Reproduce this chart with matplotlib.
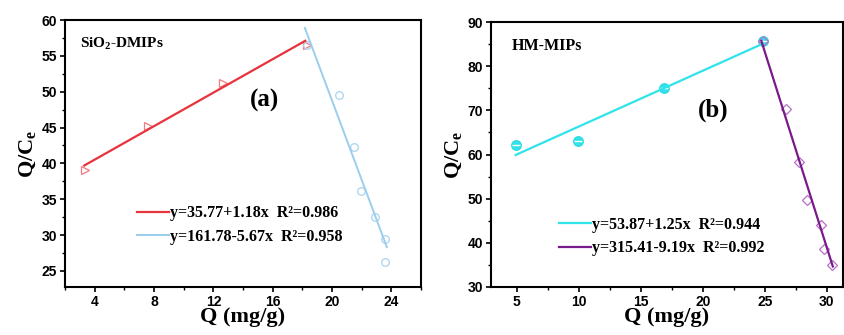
import numpy as np
import matplotlib
matplotlib.use("Agg")
import matplotlib.pyplot as plt
from matplotlib.ticker import MultipleLocator

plt.rcParams['mathtext.fontset'] = 'custom'
plt.rcParams['mathtext.rm'] = 'Liberation Serif:bold'
plt.rcParams['mathtext.it'] = 'Liberation Serif:bold'
plt.rcParams['mathtext.bf'] = 'Liberation Serif:bold'

# panel (a) SiO2-DMIPs
a_tri_x = [3.32, 7.62, 12.66, 18.3]
a_tri_y = [39.1, 45.2, 51.2, 56.5]
a_circ_x = [18.3, 20.45, 21.47, 21.97, 22.87, 23.55, 23.6]
a_circ_y = [56.5, 49.6, 42.3, 36.2, 32.5, 29.4, 26.3]
a_fit1_x = [3.3, 18.2]
a_fit1_y = [39.7, 57.1]
a_fit2_x = [18.17, 23.7]
a_fit2_y = [58.9, 28.3]
a_labels = ["y=35.77+1.18x  R²=0.986", "y=161.78-5.67x  R²=0.958"]

# panel (b) HM-MIPs
b_circ_x = [4.92, 9.94, 16.88, 24.85]
b_circ_y = [62.1, 63.1, 75.1, 85.7]
b_dia_x = [24.85, 26.73, 27.72, 28.39, 29.49, 29.76, 30.4]
b_dia_y = [85.7, 70.2, 58.2, 49.6, 44.1, 38.6, 35.0]
b_fit1_x = [4.92, 24.85]
b_fit1_y = [59.9, 85.1]
b_fit2_x = [24.72, 30.48]
b_fit2_y = [85.7, 34.65]
b_labels = ["y=53.87+1.25x  R²=0.944", "y=315.41-9.19x  R²=0.992"]

serif = "Liberation Serif"
sans = "Liberation Sans"

fig = plt.figure(figsize=(8.44, 3.35), dpi=100)
W, H = 844., 335.
axa = fig.add_axes([65 / W, 1 - 287 / H, (421 - 65) / W, (287 - 20) / H])
axb = fig.add_axes([491 / W, 1 - 287 / H, (843 - 491) / W, (287 - 22) / H])


def style(ax):
    for s in ax.spines.values():
        s.set_linewidth(1.5)
    ax.tick_params(which='major', direction='out', length=3.5, width=1.2,
                   top=False, right=False, pad=2)
    ax.tick_params(which='minor', direction='out', length=2, width=1.0,
                   top=False, right=False)
    for lab in ax.get_xticklabels() + ax.get_yticklabels():
        lab.set_fontfamily(sans)
        lab.set_fontweight('bold')
        lab.set_fontsize(10)
    ax.set_xlabel("Q (mg/g)", fontfamily=serif, fontweight='bold', fontsize=16, labelpad=-1)
    ax.set_ylabel("Q/C$_\\mathregular{e}$", fontfamily=serif, fontweight='bold', fontsize=16, labelpad=3)


# (a)
axa.plot(a_tri_x, a_tri_y, ls='none', marker='>', ms=6, mfc='none', mec='#f07a80', mew=0.9)
axa.plot(a_circ_x, a_circ_y, ls='none', marker='o', ms=5.5, mfc='none', mec='#a9d4ee', mew=0.9)
la1, = axa.plot(a_fit1_x, a_fit1_y, color='#e8323c', lw=1.6)
la2, = axa.plot(a_fit2_x, a_fit2_y, color='#9ccdee', lw=1.4)
axa.set_xlim(2, 26)
axa.set_ylim(22.75, 60)
axa.xaxis.set_major_locator(MultipleLocator(4))
axa.xaxis.set_minor_locator(MultipleLocator(2))
axa.yaxis.set_major_locator(MultipleLocator(5))
axa.yaxis.set_minor_locator(MultipleLocator(2.5))
style(axa)
axa.text(0.043, 0.912, "SiO$_\\mathregular{2}$-DMIPs", transform=axa.transAxes,
         fontfamily=serif, fontweight='bold', fontsize=11, va='center')
axa.text(0.52, 0.70, "(a)", transform=axa.transAxes, fontfamily=serif,
         fontweight='bold', fontsize=18, va='center')
axa.legend([la1, la2], a_labels, loc='center left', bbox_to_anchor=(0.18, 0.232),
           frameon=False, prop={'family': serif, 'weight': 'bold', 'size': 11.5},
           handlelength=2.0, handletextpad=0.05, labelspacing=0.45, borderpad=0)

# (b)
axb.plot(b_circ_x, b_circ_y, ls='none', marker='o', ms=7, mfc='#2fe3ea', mec='#2fd8e0', mew=0.8)
axb.plot(b_circ_x, b_circ_y, ls='none', marker='_', ms=6, mec='white', mew=1.0)
axb.plot(b_dia_x, b_dia_y, ls='none', marker='D', ms=5.5, mfc='none', mec='#b870c8', mew=0.9)
lb1, = axb.plot(b_fit1_x, b_fit1_y, color='#30e3ea', lw=1.6)
lb2, = axb.plot(b_fit2_x, b_fit2_y, color='#7a1a8a', lw=1.6)
axb.set_xlim(2.93, 31.3)
axb.set_ylim(30, 90)
axb.xaxis.set_major_locator(MultipleLocator(5))
axb.xaxis.set_minor_locator(MultipleLocator(2.5))
axb.yaxis.set_major_locator(MultipleLocator(10))
axb.yaxis.set_minor_locator(MultipleLocator(5))
style(axb)
axb.text(0.06, 0.91, "HM-MIPs", transform=axb.transAxes,
         fontfamily=serif, fontweight='bold', fontsize=11.5, va='center')
axb.text(0.588, 0.668, "(b)", transform=axb.transAxes, fontfamily=serif,
         fontweight='bold', fontsize=18, va='center')
axb.legend([lb1, lb2], b_labels, loc='center left', bbox_to_anchor=(0.17, 0.19),
           frameon=False, prop={'family': serif, 'weight': 'bold', 'size': 11.5},
           handlelength=2.0, handletextpad=0.05, labelspacing=0.45, borderpad=0)

fig.savefig("out.png", dpi=100)
